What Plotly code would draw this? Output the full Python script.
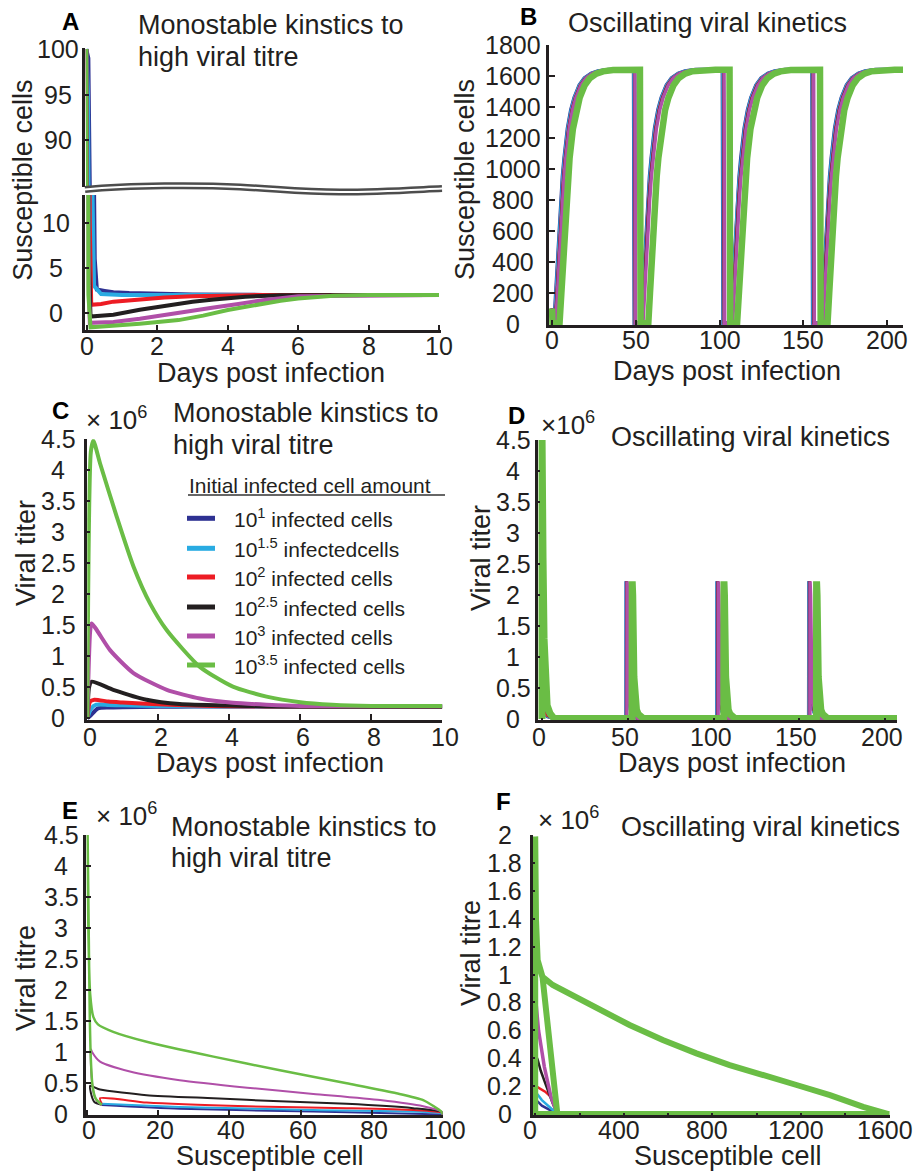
import plotly.graph_objects as go

W, H = 915, 1171
FONT = "Liberation Sans, Arial, Helvetica, sans-serif"
INK = "#231F20"


def px(x):
    return x / W


def py(y):
    return 1 - y / H


# ---------------- shared series info ----------------
series_labels = ["10<sup>1</sup> infected cells", "10<sup>1.5</sup> infectedcells",
                 "10<sup>2</sup> infected cells", "10<sup>2.5</sup> infected cells",
                 "10<sup>3</sup> infected cells", "10<sup>3.5</sup> infected cells"]
series_colors = ["#2E3192", "#29ABE2", "#ED1C24", "#231F20", "#B04FA8", "#6ABD45"]

# ---------------- Panel A : susceptible cells, monostable ----------------
A_days = [
    [0, 0.06, 0.1, 0.16, 0.22, 0.28, 0.5, 0.75, 1.2, 2, 3, 5, 10],
    [0, 0.05, 0.1, 0.15, 0.2, 0.4, 1, 2, 3, 10],
    [0, 0.04, 0.08, 0.12, 0.4, 0.75, 1.5, 2.2, 3, 4, 5, 10],
    [0, 0.03, 0.06, 0.1, 0.4, 0.75, 1.5, 2.2, 3, 3.6, 4.5, 5.5, 10],
    [0, 0.02, 0.05, 0.08, 0.4, 0.75, 1.5, 2.2, 3, 3.6, 4.3, 5, 6, 10],
    [0, 0.02, 0.04, 0.1, 0.75, 1.5, 2.6, 3.3, 4, 4.8, 5.5, 6, 7, 8, 10],
]
A_cells = [
    [100, 99, 85, 30, 6, 2.6, 2.45, 2.3, 2.2, 2.1, 2.05, 2.0, 2.0],
    [100, 95, 60, 15, 3, 2.1, 2.0, 2.0, 2.0, 2.0],
    [100, 60, 10, 0.9, 1.0, 1.25, 1.5, 1.7, 1.85, 1.95, 2.0, 2.0],
    [100, 50, 5, -0.4, -0.35, -0.2, 0.35, 0.8, 1.25, 1.5, 1.8, 1.95, 2.0],
    [100, 50, 3, -1.1, -1.1, -1.0, -0.65, -0.2, 0.3, 0.6, 1.0, 1.4, 1.85, 2.0],
    [100, 40, 2, -1.6, -1.45, -1.2, -0.8, -0.3, 0.33, 0.9, 1.35, 1.6, 1.9, 2.0, 2.0],
]
A_upper_ticks = [90, 95, 100]
A_lower_ticks = [0, 5, 10]
A_xticks = [0, 2, 4, 6, 8, 10]

# ---------------- Panel B : susceptible cells, oscillating ----------------
B_rise_dt = [0, 1, 2, 3, 4, 5, 6, 8, 10, 12, 15, 18, 22, 26, 32, 40]
B_rise_cells = [5, 200, 420, 620, 800, 950, 1070, 1260, 1380, 1460, 1540, 1585, 1615, 1630, 1638, 1640]
B_start_cells = 100
B_plateau = 1640
B_trough = 5
B_rise_starts = [
    [1.5, 53.5, 107.0, 161.0],
    [1.6, 53.6, 107.1, 161.1],
    [1.8, 53.8, 107.3, 161.3],
    [1.7, 53.7, 107.2, 161.2],
    [2.2, 54.3, 107.8, 161.8],
    [4.5, 57.5, 110.5, 164.5],
]
B_drop_days = [
    [49.0, 102.0, 155.5],
    [49.1, 102.1, 155.6],
    [49.2, 102.3, 155.8],
    [49.1, 102.2, 155.7],
    [49.5, 102.7, 156.2],
    [52.5, 106.0, 160.0],
]
B_end_day = 210
B_xticks = [0, 50, 100, 150, 200]
B_yticks = [0, 200, 400, 600, 800, 1000, 1200, 1400, 1600, 1800]

# ---------------- Panel C : viral titer, monostable (x 10^6) ----------------
C_days = [
    [0, 0.1, 0.3, 0.6, 1, 2, 3, 5, 10],
    [0, 0.1, 0.25, 0.6, 1, 2, 4, 10],
    [0, 0.08, 0.2, 0.6, 1, 2, 3, 4, 6, 10],
    [0, 0.05, 0.12, 0.73, 1.67, 2.6, 4, 5, 6, 10],
    [0, 0.08, 0.12, 0.64, 1.3, 2.24, 3.17, 4.1, 5.05, 6, 10],
    [0, 0.1, 0.17, 0.36, 0.83, 1.3, 1.77, 2.24, 3.17, 4.1, 5.05, 6, 6.9, 8, 10],
]
C_titer = [
    [0, 0.05, 0.16, 0.175, 0.18, 0.185, 0.19, 0.19, 0.19],
    [0, 0.15, 0.22, 0.215, 0.21, 0.2, 0.19, 0.19],
    [0, 0.27, 0.3, 0.27, 0.255, 0.225, 0.205, 0.195, 0.19, 0.19],
    [0, 0.5, 0.59, 0.46, 0.3, 0.23, 0.205, 0.195, 0.19, 0.19],
    [0, 1.4, 1.53, 1.1, 0.73, 0.46, 0.32, 0.25, 0.22, 0.2, 0.2],
    [0, 4.3, 4.48, 4.11, 3.25, 2.45, 1.85, 1.42, 0.83, 0.51, 0.35, 0.26, 0.22, 0.2, 0.2],
]
C_xticks = [0, 2, 4, 6, 8, 10]
C_yticks = [0, 0.5, 1, 1.5, 2, 2.5, 3, 3.5, 4, 4.5]
C_ytext = ["0", "0.5", "1", "1.5", "2", "2.5", "3", "3.5", "4", "4.5"]

# ---------------- Panel D : viral titer, oscillating (x 10^6) ----------------
D_init_days = [
    [0, 0.2, 1, 3, 7],
    [0, 0.1, 1, 3, 7],
    [0, 0.05, 1, 3, 7],
    [0, 0.05, 0.8, 2, 4, 7],
    [0, 0.05, 0.6, 1.5, 3, 5, 7],
    [0, 0.05, 0.6, 1.2, 2, 3, 4.7, 7],
]
D_init_titer = [
    [0, 0.17, 0.13, 0.04, 0.01],
    [0, 0.22, 0.16, 0.05, 0.01],
    [0, 0.29, 0.2, 0.06, 0.01],
    [0, 0.57, 0.35, 0.15, 0.04, 0.01],
    [0, 1.5, 0.9, 0.4, 0.12, 0.03, 0.01],
    [0, 4.5, 2.6, 1.3, 0.48, 0.22, 0.09, 0.01],
]
D_spike_dt = [0, 0.1, 0.4, 1.1, 1.8, 2.6, 3.6, 5, 6.5]
D_spike_titer = [0.01, 2.22, 2.0, 0.68, 0.3, 0.15, 0.08, 0.03, 0.01]
D_end_day = 207
D_baseline = 0.01
D_xticks = [0, 50, 100, 150, 200]
D_yticks = C_yticks
D_ytext = C_ytext

# ---------------- Panel E : phase plane, monostable ----------------
E_cells = [
    [100, 63.6, 26, 4.1],
    [100, 99.7, 63.6, 26, 4.1],
    [100, 99.7, 91.7, 73, 45, 16.7, 3.6, 4.1],
    [100, 99.7, 91.7, 73, 54.2, 35.5, 16.7, 3.6, 0.8, 1.0, 2.0, 4.1],
    [100, 99.7, 94.5, 82.4, 63.6, 45, 26, 12, 3.6, 1.3, 1.0, 1.2, 2.0, 3.0, 4.1],
    [100, 99.7, 94.5, 87.0, 73.0, 54.2, 35.5, 16.7, 7.3, 3.0, 1.7, 0.8, 0.3, 0.1,
     0.4, 0.7, 1.0, 1.5, 2.4, 4.1],
]
E_titer = [
    [0.0, 0.045, 0.09, 0.15],
    [0.0, 0.02, 0.07, 0.12, 0.17],
    [0.0, 0.03, 0.07, 0.10, 0.13, 0.19, 0.26, 0.17],
    [0.0, 0.04, 0.10, 0.17, 0.21, 0.26, 0.31, 0.40, 0.46, 0.35, 0.2, 0.155],
    [0.0, 0.04, 0.13, 0.23, 0.33, 0.43, 0.55, 0.69, 0.85, 1.01, 1.05, 0.6, 0.3, 0.2, 0.155],
    [0.0, 0.04, 0.23, 0.34, 0.5, 0.71, 0.93, 1.17, 1.33, 1.45, 1.57, 1.95, 3.0, 4.5,
     3.0, 1.6, 0.9, 0.45, 0.25, 0.155],
]
E_xticks = [0, 20, 40, 60, 80, 100]
E_yticks = C_yticks
E_ytext = C_ytext

# ---------------- Panel F : phase plane, oscillating ----------------
F_cells = [
    [100, 64, 30, 11, 3, 0.5],
    [100, 64, 30, 11, 3, 0.5, 0.5],
    [100, 90, 79, 45, 11, 3, 0.5, 0.5],
    [100, 79, 50, 25, 11, 3, 0.5, 0.5],
    [100, 85, 71, 41, 15, 3.6, 0.5, 0.5],
    [100, 94, 79, 56, 33, 11, 3.6, 0, 0, 1600, 1595, 1481, 1331, 1180, 1029, 878, 728,
     576, 426, 275, 154, 79, 33, 11, 3.6, 0, 0, 1600],
]
F_titer = [
    [0, 0.03, 0.06, 0.09, 0.095, 0],
    [0, 0.05, 0.1, 0.14, 0.145, 0.07, 0],
    [0, 0.05, 0.11, 0.16, 0.196, 0.2, 0.1, 0],
    [0, 0.077, 0.2, 0.31, 0.39, 0.42, 0.2, 0],
    [0, 0.06, 0.124, 0.34, 0.6, 0.8, 0.5, 0],
    [0, 0.08, 0.32, 0.67, 0.98, 1.1, 1.39, 1.99, 0.0, 0.0, 0.0, 0.052, 0.136, 0.208,
     0.28, 0.351, 0.435, 0.53, 0.638, 0.758, 0.865, 0.925, 0.984, 1.104, 1.39, 1.99, 0, 0],
]
F_xticks = [0, 200, 400, 600, 800, 1000, 1200, 1400, 1600]
F_xlabel_vals = [0, 400, 800, 1200, 1600]
F_yticks = [0, 0.2, 0.4, 0.6, 0.8, 1.0, 1.2, 1.4, 1.6, 1.8, 2.0]
F_ytext = ["0", "0.2", "0.4", "0.6", "0.8", "1", "1.2", "1.4", "1.6", "1.8", "2"]


# ---------------- builders for repeating oscillation runs ----------------
def build_B(rises, drops):
    t = [0, 0.3]
    s = [B_start_cells, B_trough]
    for i, r in enumerate(rises):
        t += [r + d for d in B_rise_dt]
        s += B_rise_cells
        if i < len(drops):
            t += [drops[i], drops[i] + 0.4]
            s += [B_plateau, B_trough]
    t.append(B_end_day)
    s.append(B_plateau)
    return t, s


def build_D(init_t, init_v, spikes):
    t = list(init_t)
    v = list(init_v)
    for sp in spikes:
        t += [sp + d for d in D_spike_dt]
        v += D_spike_titer
    t.append(D_end_day)
    v.append(D_baseline)
    return t, v


fig = go.Figure()

A_w = [4, 4, 4, 4, 4, 4]
B_w = [4.5, 4, 3, 2, 3.5, 6.5]
C_w = [4, 4, 4, 4, 4, 4]
D_w = [3.5, 3.5, 3, 2, 3.5, 7]
E_w = [2, 2, 2, 2, 2, 2.5]
F_w = [2.5, 2.5, 2.5, 2.5, 3.5, 6]

SP = dict(shape="spline", smoothing=0.6)

for i in range(6):
    col = series_colors[i]
    fig.add_trace(go.Scatter(x=A_days[i], y=A_cells[i], xaxis="x", yaxis="y", mode="lines",
                             line=dict(color=col, width=A_w[i]), name=series_labels[i]))
    fig.add_trace(go.Scatter(x=A_days[i], y=A_cells[i], xaxis="x2", yaxis="y2", mode="lines",
                             line=dict(color=col, width=A_w[i] - 1.5), name=series_labels[i]))
    bt, bs = build_B(B_rise_starts[i], B_drop_days[i])
    fig.add_trace(go.Scatter(x=bt, y=bs, xaxis="x3", yaxis="y3", mode="lines",
                             line=dict(color=col, width=B_w[i]), name=series_labels[i]))
    fig.add_trace(go.Scatter(x=C_days[i], y=C_titer[i], xaxis="x4", yaxis="y4", mode="lines",
                             line=dict(color=col, width=C_w[i], **SP), name=series_labels[i]))
    dt, dv = build_D(D_init_days[i], D_init_titer[i], B_drop_days[i])
    fig.add_trace(go.Scatter(x=dt, y=dv, xaxis="x5", yaxis="y5", mode="lines",
                             line=dict(color=col, width=D_w[i]), name=series_labels[i]))
    fig.add_trace(go.Scatter(x=E_cells[i], y=E_titer[i], xaxis="x6", yaxis="y6", mode="lines",
                             line=dict(color=col, width=E_w[i], **SP), name=series_labels[i]))
    fig.add_trace(go.Scatter(x=F_cells[i], y=F_titer[i], xaxis="x7", yaxis="y7", mode="lines",
                             line=dict(color=col, width=F_w[i]), name=series_labels[i]))


def xax(dom, rng, anchor, tickvals, ticklen=5, show=True):
    return dict(domain=[px(dom[0]), px(dom[1])], range=rng, anchor=anchor, showgrid=False,
                zeroline=False, showline=True, linecolor=INK, linewidth=2.5, ticks="inside",
                tickcolor=INK, tickwidth=2, ticklen=ticklen, tickvals=tickvals,
                showticklabels=False, fixedrange=True, automargin=False, visible=show)


def yax(dom, rng, anchor, tickvals, ticklen=4):
    return dict(domain=[py(dom[0]), py(dom[1])], range=rng, anchor=anchor, showgrid=False,
                zeroline=False, showline=True, linecolor=INK, linewidth=2.5, ticks="inside",
                tickcolor=INK, tickwidth=2, ticklen=ticklen, tickvals=tickvals,
                showticklabels=False, fixedrange=True, automargin=False)


layout = dict(
    width=W, height=H, margin=dict(l=0, r=0, t=0, b=0), showlegend=False,
    paper_bgcolor="white", plot_bgcolor="white",
    xaxis=xax((85.2, 441), [-0.051, 10.057], "y", A_xticks),
    yaxis=yax((330, 195), [-1.9, 13.1], "x", A_lower_ticks),
    xaxis2=xax((85.2, 441), [-0.051, 10.057], "y2", A_xticks, show=False),
    yaxis2=yax((187, 48), [84.9, 100.1], "x2", A_upper_ticks),
    xaxis3=xax((549, 903), [-1.79, 209.55], "y3", B_xticks),
    yaxis3=yax((325, 45), [-6.45, 1800], "x3", B_yticks, ticklen=6),
    xaxis4=xax((87.3, 442.3), [0, 10], "y4", C_xticks, ticklen=6),
    yaxis4=yax((720, 439.3), [-0.027, 4.5], "x4", C_yticks, ticklen=3),
    xaxis5=xax((538, 897), [-2.33, 207], "y5", D_xticks, ticklen=2),
    yaxis5=yax((720, 440), [-0.016, 4.5], "x5", D_yticks, ticklen=2),
    xaxis6=xax((86.2, 442.7), [-0.3, 100], "y6", E_xticks, ticklen=5),
    yaxis6=yax((1115, 835), [-0.01, 4.5], "x6", E_yticks, ticklen=5),
    xaxis7=xax((533, 890), [-10, 1602], "y7", F_xticks, ticklen=2),
    yaxis7=yax((1115, 835), [-0.007, 2.0], "x7", F_yticks, ticklen=2),
)
fig.update_layout(**layout)

ann = []
TS = 27   # titles / axis titles
KS = 25   # tick labels


def text(x, y, s, size=TS, xanchor="left", bold=False, angle=0):
    ann.append(dict(x=px(x), y=py(y), xref="paper", yref="paper", text=s, showarrow=False,
                    xanchor=xanchor, yanchor="middle", textangle=angle, borderpad=0,
                    font=dict(family=FONT, size=size, color="black" if bold else INK,
                              weight="bold" if bold else "normal")))


def ytick_labels(yref, vals, labels, xc):
    for v, lab in zip(vals, labels):
        ann.append(dict(x=px(xc), y=v, xref="paper", yref=yref, text=lab, showarrow=False,
                        xanchor="center", yanchor="middle", borderpad=0,
                        font=dict(family=FONT, size=KS, color=INK)))


def xtick_labels(xref, vals, yc, xshift=0):
    for v in vals:
        ann.append(dict(x=v, y=py(yc), xref=xref, yref="paper", text=str(v), showarrow=False,
                        xanchor="center", yanchor="middle", xshift=xshift, borderpad=0,
                        font=dict(family=FONT, size=KS, color=INK)))


# panel letters
for lab, x, y in [("A", 70.7, 22), ("B", 528.3, 16.7), ("C", 60, 410),
                  ("D", 516.7, 415), ("E", 70, 810), ("F", 503, 801)]:
    text(x, y, lab, size=24, xanchor="center", bold=True)

# titles
text(136.7, 25, "Monostable kinstics to")
text(136.7, 56.7, "high viral titre")
text(566.7, 23.3, "Oscillating viral kinetics")
text(171.7, 413.3, "Monostable kinstics to")
text(171.7, 445, "high viral titre")
text(610, 436.7, "Oscillating viral kinetics")
text(170, 826.7, "Monostable kinstics to")
text(170, 858.3, "high viral titre")
text(620, 826.7, "Oscillating viral kinetics")

# axis titles
text(22.7, 180, "Susceptible cells", xanchor="center", angle=-90)
text(270.7, 373, "Days post infection", xanchor="center")
text(465, 180, "Susceptible cells", xanchor="center", angle=-90)
text(726.7, 371, "Days post infection", xanchor="center")
text(26.7, 553.3, "Viral titer", xanchor="center", angle=-90)
text(270, 763, "Days post infection", xanchor="center")
text(481.7, 558.3, "Viral titer", xanchor="center", angle=-90)
text(731.7, 763, "Days post infection", xanchor="center")
text(26.7, 978.3, "Viral titre", xanchor="center", angle=-90)
text(270, 1156, "Susceptible cell", xanchor="center")
text(471.7, 953.3, "Viral titre", xanchor="center", angle=-90)
text(728.3, 1156, "Susceptible cell", xanchor="center")

# exponent labels
text(85, 418, "× 10<sup>6</sup>", size=26)
text(540, 423, "×10<sup>6</sup>", size=26)
text(95, 814.7, "× 10<sup>6</sup>", size=26)
text(537, 818, "× 10<sup>6</sup>", size=26)

# y tick labels (centred, as in the source figure)
ytick_labels("y2", A_upper_ticks, [str(v) for v in A_upper_ticks], 58)
ytick_labels("y", A_lower_ticks, [str(v) for v in A_lower_ticks], 56)
ytick_labels("y3", B_yticks, [str(v) for v in B_yticks], 513)
ytick_labels("y4", C_yticks, C_ytext, 58)
ytick_labels("y5", D_yticks, D_ytext, 513)
ytick_labels("y6", E_yticks, E_ytext, 61)
ytick_labels("y7", F_yticks, F_ytext, 505)

# x tick labels
xtick_labels("x", A_xticks, 346)
xtick_labels("x3", B_xticks, 340)
xtick_labels("x4", C_xticks, 737, xshift=3)
xtick_labels("x5", D_xticks, 737, xshift=-3)
xtick_labels("x6", E_xticks, 1130, xshift=2)
xtick_labels("x7", F_xlabel_vals, 1130, xshift=-5)

# legend in panel C
text(188, 485, "Initial infected cell amount", size=21)
legend_rows = [518.3, 548.3, 577, 607, 636, 665]
shapes = [dict(type="line", xref="paper", yref="paper", x0=px(188), x1=px(445),
               y0=py(495), y1=py(495), line=dict(color="#333333", width=1.5))]
for i, yy in enumerate(legend_rows):
    shapes.append(dict(type="line", xref="paper", yref="paper", x0=px(187), x1=px(215),
                       y0=py(yy), y1=py(yy), line=dict(color=series_colors[i], width=5)))
    text(233, yy, series_labels[i], size=21)

# axis-break symbol in panel A
pts = [(85, 189.5), (130, 185), (200, 185), (240, 187), (280, 189), (300, 192), (340, 192),
       (380, 192), (410, 190), (442, 188.5)]
path = "M {},{}".format(px(pts[0][0]), py(pts[0][1]))
for k in range(1, len(pts), 3):
    path += " C " + " ".join("{},{}".format(px(a), py(b)) for a, b in pts[k:k + 3])
shapes.append(dict(type="path", path=path, xref="paper", yref="paper", layer="above",
                   line=dict(color="#4D4D4D", width=7)))
shapes.append(dict(type="path", path=path, xref="paper", yref="paper", layer="above",
                   line=dict(color="white", width=2)))

fig.update_layout(annotations=ann, shapes=shapes)
fig.write_html("out.html")
